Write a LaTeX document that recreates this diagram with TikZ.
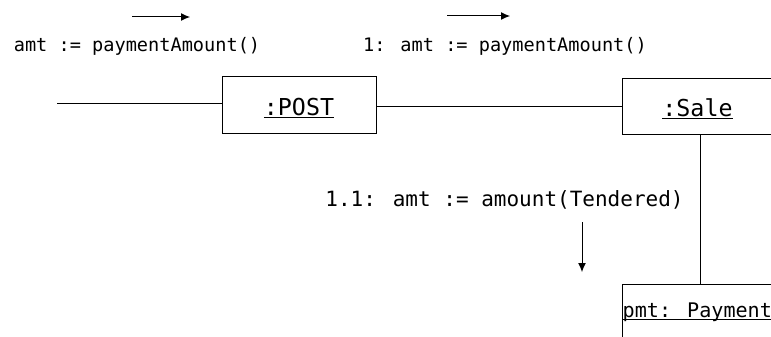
\documentclass[tikz,border=0pt]{standalone}
\usepackage{fontspec}
\newfontfamily\umlmono{DejaVu Sans Mono}
\usetikzlibrary{arrows.meta}
\newcommand\umlul[1]{\setbox0\hbox{#1}\rlap{\rule[-2.8pt]{\wd0}{0.9pt}}\box0}
\tikzset{
  objbox/.style={draw, line width=1pt, rectangle, inner sep=0pt, text height=20pt, text depth=0pt},
  boxfont/.style={font=\umlmono\fontsize{23.3}{25}\selectfont},
  msgfont/.style={font=\umlmono\fontsize{18.6}{20}\selectfont, inner sep=0pt, anchor=base},
  bigmsgfont/.style={font=\umlmono\fontsize{21}{23}\selectfont, inner sep=0pt, anchor=base},
  link/.style={line width=1pt},
  msgarrow/.style={line width=1pt, -{Latex[length=9pt,width=8pt]}}
}
\begin{document}
\begin{tikzpicture}[x=1pt,y=-1pt]
\useasboundingbox (0,0) rectangle (771,337);
\clip (0,0) rectangle (771,337);
% objects
\node[objbox, boxfont, minimum width=154pt, minimum height=56pt] (post) at (299,105) {\umlul{:POST}};
\node[objbox, boxfont, minimum width=151pt, minimum height=55pt] (sale) at (697.5,106.5) {\umlul{:Sale}};
\node[draw, line width=1pt, rectangle, inner sep=0pt, minimum width=200pt, minimum height=100pt, anchor=north west] (pay) at (622,284) {};
\node[font=\umlmono\fontsize{20.1}{22}\selectfont, inner sep=0pt, anchor=base west] (paylabel) at (622.5,317.5) {\umlul{pmt: Payment}};
% links
\coordinate (lend) at (57,103);
\draw[link] (lend) -- (lend -| post.west);
\draw[link] (post.east |- sale.west) -- (sale.west);
\coordinate (vtop) at ([xshift=2.5pt]sale.south);
\draw[link] (vtop) -- (vtop |- pay.north);
% messages
\node[msgfont] (m1) at (137,52) {amt := paymentAmount()};
\node[msgfont] (m2) at (505,52) {1: amt := paymentAmount()};
\node[bigmsgfont] (m3) at (504.5,206) {1.1: amt := amount(Tendered)};
\coordinate (a1s) at (132,17);
\coordinate (a1e) at (190,17);
\draw[msgarrow] (a1s) -- (a1e);
\coordinate (a2s) at (447,16);
\coordinate (a2e) at (510,16);
\draw[msgarrow] (a2s) -- (a2e);
\coordinate (a3s) at (582,222);
\coordinate (a3e) at (582,272);
\draw[msgarrow] (a3s) -- (a3e);
\end{tikzpicture}
\end{document}
